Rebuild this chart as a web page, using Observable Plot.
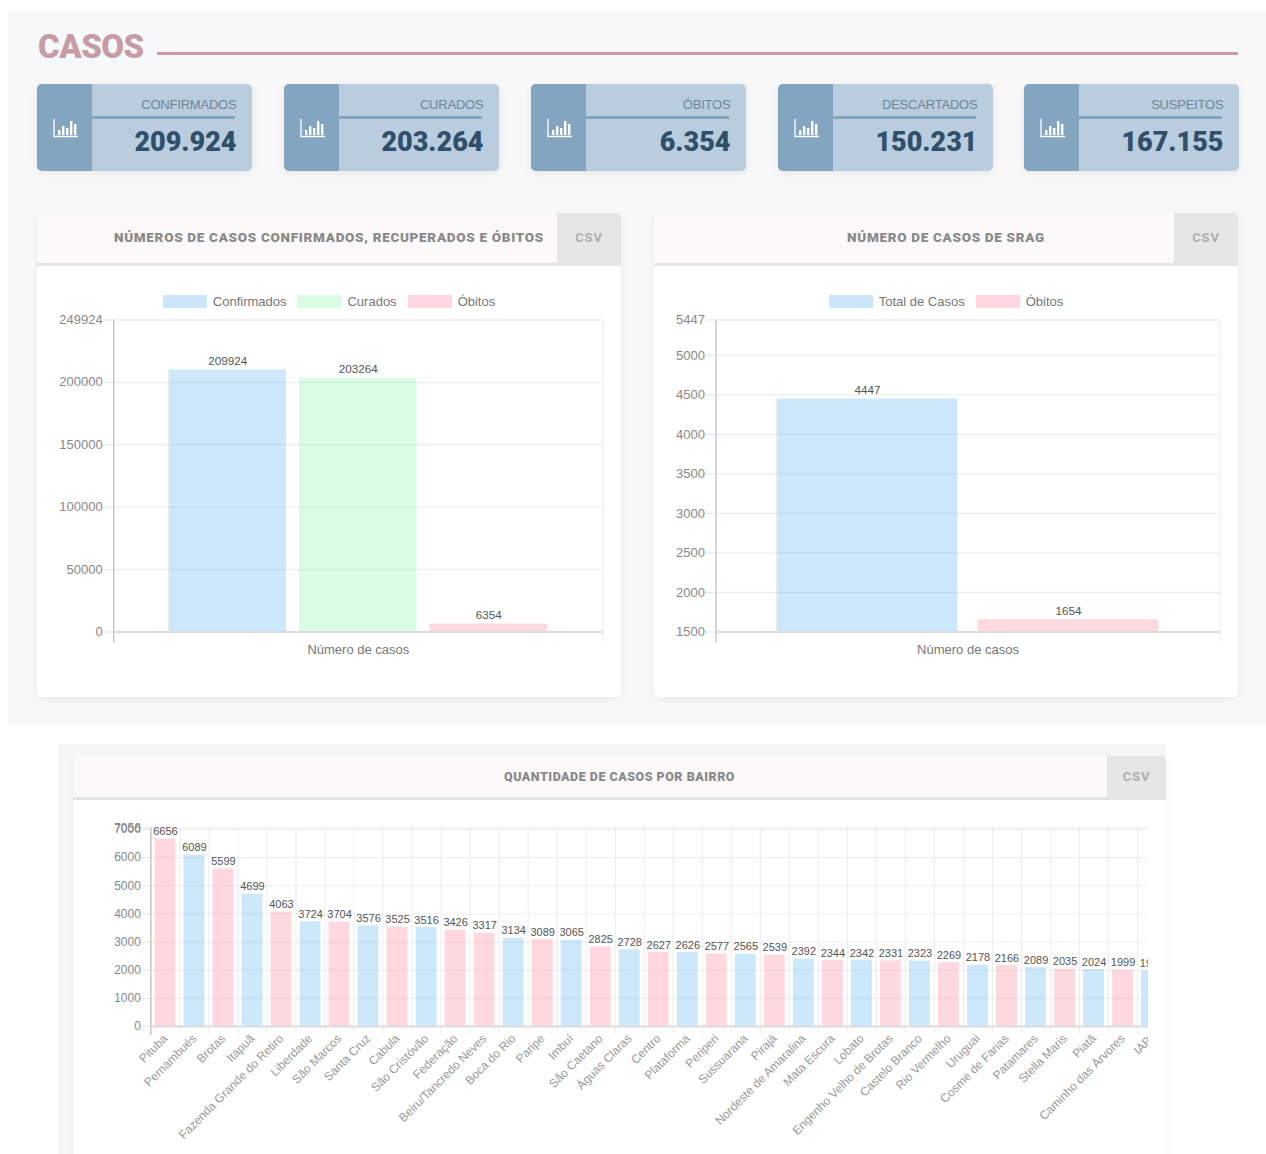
<!DOCTYPE html>
<html lang="pt-BR">
<head>
<meta charset="utf-8">
<script src="https://cdn.jsdelivr.net/npm/d3@7"></script>
<script src="https://cdn.jsdelivr.net/npm/@observablehq/plot@0.6"></script>
<style>
  html, body { margin: 0; padding: 0; background: #fff; }
  #page { position: relative; width: 1266px; height: 1154px; overflow: hidden; background: #fff; font-family: "Liberation Sans", Arial, sans-serif; }
  .abs { position: absolute; }
  #panel1 { left: 8px; top: 11px; width: 1258px; height: 714px; background: #f8f8f8; }
  #panel2 { left: 58px; top: 744px; width: 1108px; height: 410px; background: #f7f7f7; }
  #casos { left: 36px; top: 30px; width: 121px; height: 33px; background: #f6f9fb; color: #c99ba4; font: 900 33px/33px Roboto, sans-serif; letter-spacing: -0.5px; padding-left: 2px; box-sizing: border-box; }
  #casosRule { left: 157px; top: 51.5px; width: 1081px; height: 3px; background: #cb9ca5; }
  .stat { position: absolute; top: 84px; width: 214.5px; height: 87px; border-radius: 5px; background: #b9cddf; overflow: hidden; box-shadow: 0 2px 8px rgba(0,0,0,.08); }
  .stat .side { position: absolute; left: 0; top: 0; width: 55px; height: 100%; background: #83a5c0; }
  .stat .side svg { position: absolute; left: 16px; top: 34px; }
  .stat .lab { position: absolute; right: 15px; top: 13px; font-size: 13px; line-height: 16px; color: #6f8599; letter-spacing: -0.2px; }
  .stat .line { position: absolute; left: 55px; right: 17px; top: 32px; height: 3px; background: #82a5c1; }
  .stat .num { position: absolute; right: 15px; top: 41px; font: 900 27px/34px Roboto, sans-serif; color: #2f4f6a; }
  .card { position: absolute; background: #fff; border-radius: 5px; box-shadow: 0 2px 10px rgba(0,0,0,.06); overflow: hidden; }
  .card .head { position: absolute; left: 0; right: 0; top: 0; background: #fbf9fa; border-bottom: 3px solid #e3e3e3; text-align: center; color: #8a8a8a; font-family: Roboto, sans-serif; font-weight: 900; box-sizing: content-box; }
  .card .csv { position: absolute; right: 0; top: 0; background: #e6e6e6; color: #aeaeae; font: 700 13px Roboto, sans-serif; letter-spacing: 0.9px; text-align: center; }
  .legend { position: absolute; left: 0; right: 0; top: 82px; display: flex; justify-content: center; gap: 11px; font-size: 13px; line-height: 13px; color: #777; }
  .legend span.item { display: flex; align-items: center; gap: 6px; }
  .legend i { display: block; width: 44px; height: 13px; }
  .plotbox { position: absolute; overflow: hidden; }
  .plotbox svg { display: block; background: transparent; max-width: none; height: auto; }
</style>
</head>
<body>
<div id="page">
  <div class="abs" id="panel1"></div>
  <div class="abs" id="panel2"></div>
  <div class="abs" id="casos">CASOS</div>
  <div class="abs" id="casosRule"></div>
</div>
<script>
// Stat cards
const cardLabels = ["CONFIRMADOS", "CURADOS", "ÓBITOS", "DESCARTADOS", "SUSPEITOS"];
const cardValues = ["209.924", "203.264", "6.354", "150.231", "167.155"];
const cardLefts = [37, 284, 531, 778, 1024];

// Chart 1
const casosSeries = ["Confirmados", "Curados", "Óbitos"];
const casosValues = [209924, 203264, 6354];
const casosTicks = [0, 50000, 100000, 150000, 200000, 249924];

// Chart 2
const sragSeries = ["Total de Casos", "Óbitos"];
const sragValues = [4447, 1654];
const sragTicks = [1500, 2000, 2500, 3000, 3500, 4000, 4500, 5000, 5447];
const sragBase = 1500;

// Chart 3
const bairros = ["Pituba","Pernambués","Brotas","Itapuã","Fazenda Grande do Retiro","Liberdade","São Marcos","Santa Cruz","Cabula","São Cristóvão","Federação","Beiru/Tancredo Neves","Boca do Rio","Paripe","Imbuí","São Caetano","Águas Claras","Centro","Plataforma","Periperi","Sussuarana","Pirajá","Nordeste de Amaralina","Mata Escura","Lobato","Engenho Velho de Brotas","Castelo Branco","Rio Vermelho","Uruguai","Cosme de Farias","Patamares","Stella Maris","Piatã","Caminho das Árvores","IAPI"];
const bairroValues = [6656,6089,5599,4699,4063,3724,3704,3576,3525,3516,3426,3317,3134,3089,3065,2825,2728,2627,2626,2577,2565,2539,2392,2344,2342,2331,2323,2269,2178,2166,2089,2035,2024,1999,1987];
const bairroGroups = "RARARARARARRARARARARARARARARARARARA".split("");
const bairroTicks = [0,1000,2000,3000,4000,5000,6000,7000,7056];

// Palette
const blue = "rgb(54,162,235)", green = "rgb(107,243,147)", pink = "rgb(255,99,132)";
const barOpacity = 0.25;
const swatchColors = {"Confirmados":"#cde6f9","Total de Casos":"#cde6f9","Curados":"#dafce4","Óbitos":"#ffd7e0"};

const page = document.getElementById("page");

function el(tag, cls, parent, css, text) {
  const e = document.createElement(tag);
  if (cls) e.className = cls;
  if (css) e.style.cssText = css;
  if (text != null) e.textContent = text;
  parent.appendChild(e);
  return e;
}

// stat cards
const iconSvg = '<svg width="26" height="20" viewBox="0 0 26 20" fill="none"><path d="M1 1V18.5H25" stroke="#fff" stroke-width="1.3"/><g fill="#fff"><rect x="5" y="12" width="2.4" height="5"/><rect x="9" y="8" width="2.4" height="9"/><rect x="13" y="10" width="2.4" height="7"/><rect x="17" y="3" width="2.4" height="14"/><rect x="21" y="6" width="2.4" height="11"/></g></svg>';
cardLabels.forEach((lab, i) => {
  const c = el("div", "stat", page, `left:${cardLefts[i]}px`);
  const side = el("div", "side", c);
  side.innerHTML = iconSvg;
  el("div", "lab", c, "", lab);
  el("div", "line", c);
  el("div", "num", c, "", cardValues[i]);
});

function makeCard(left, top, width, height, headH, csvW, title, titleSize, titleSpacing, titleLine) {
  const c = el("div", "card", page, `left:${left}px;top:${top}px;width:${width}px;height:${height}px`);
  el("div", "head", c, `height:${headH}px;line-height:${titleLine}px;font-size:${titleSize}px;letter-spacing:${titleSpacing}px`, title);
  el("div", "csv", c, `width:${csvW}px;height:${headH + 3}px;line-height:${headH}px`, "CSV");
  return c;
}
function legend(card, names) {
  const l = el("div", "legend", card);
  names.forEach(n => {
    const s = el("span", "item", l);
    el("i", "", s, `background:${swatchColors[n]}`);
    el("span", "", s, "", n);
  });
}

const axisColor = "#e4e4e4", gridColor = "#000", textColor = "#888";

function summaryPlot({series, values, ticks, base, colors, marginLeft, range, width, height}) {
  const data = series.map((s, i) => ({s, v: values[i]}));
  return Plot.plot({
    width, height,
    marginLeft, marginRight: 18.5, marginTop: 54.5, marginBottom: 65.5,
    style: {fontFamily: '"Liberation Sans", Arial, sans-serif', background: "transparent", overflow: "hidden"},
    x: {type: "band", domain: series, range, padding: 0.1, round: false, label: null},
    y: {domain: [base, ticks[ticks.length - 1]], label: null},
    color: {domain: series, range: colors},
    marks: [
      Plot.gridY(ticks, {stroke: gridColor, strokeOpacity: 0.07, strokeWidth: 1.3}),
      Plot.frame({anchor: "right", stroke: "#ececec", insetBottom: -10}),
      Plot.barY(data, {x: "s", y1: () => base, y2: "v", fill: "s", fillOpacity: barOpacity}),
      Plot.frame({anchor: "left", stroke: "#bdbdbd", strokeWidth: 1.2, insetBottom: -10}),
      Plot.ruleY([base], {stroke: "#dcdcdc", strokeWidth: 2}),
      Plot.axisY({ticks, tickFormat: "d", tickSize: 10, tickPadding: 1, fontSize: 13, stroke: axisColor, fill: textColor, label: null}),
      Plot.axisX({tickSize: 0, tickFormat: () => "", label: "Número de casos", labelAnchor: "center", labelArrow: "none", labelOffset: 22, fontSize: 13, fill: "#777"}),
      Plot.text(data, {x: "s", y: "v", text: d => String(d.v), dy: -9, fontSize: 11.7, fill: "#555"})
    ]
  });
}

// Chart 1
const card1 = makeCard(37, 213, 584, 484, 50, 64, "NÚMEROS DE CASOS CONFIRMADOS, RECUPERADOS E ÓBITOS", 13.5, 0.7, 49);
legend(card1, casosSeries);
const box1 = el("div", "plotbox", card1, "left:0;top:52px;width:584px;height:432px");
box1.appendChild(summaryPlot({series: casosSeries, values: casosValues, ticks: casosTicks, base: 0, colors: [blue, green, pink], marginLeft: 76.2, range: [118.45, 523], width: 584, height: 432}));

// Chart 2
const card2 = makeCard(654, 213, 584, 484, 50, 64, "NÚMERO DE CASOS DE SRAG", 13.5, 0.7, 49);
legend(card2, sragSeries);
const box2 = el("div", "plotbox", card2, "left:0;top:52px;width:584px;height:432px");
box2.appendChild(summaryPlot({series: sragSeries, values: sragValues, ticks: sragTicks, base: sragBase, colors: [blue, pink], marginLeft: 61.5, range: [102.4, 524.5], width: 584, height: 432}));

// Chart 3
const card3 = makeCard(73, 756, 1093, 420, 41, 59, "QUANTIDADE DE CASOS POR BAIRRO", 12.5, 0.5, 42);
const box3 = el("div", "plotbox", card3, "left:0;top:44px;width:1075px;height:354px");
const bairroData = bairros.map((b, i) => ({b, v: bairroValues[i], g: bairroGroups[i]}));
const step = 29.02;
box3.appendChild(Plot.plot({
  width: 1075, height: 354,
  marginLeft: 77.4, marginRight: 0, marginTop: 27.4, marginBottom: 128,
  style: {fontFamily: '"Liberation Sans", Arial, sans-serif', background: "transparent", overflow: "hidden"},
  x: {type: "band", domain: bairros, range: [77.4, 77.4 + step * bairros.length], paddingInner: 0.28, paddingOuter: 0.14, round: false, label: null},
  y: {domain: [0, 7056], label: null},
  color: {domain: ["R", "A"], range: [pink, blue]},
  marks: [
    Plot.gridY(bairroTicks, {stroke: gridColor, strokeOpacity: 0.07}),
    Plot.gridX(bairros, {dx: -step / 2, stroke: gridColor, strokeOpacity: 0.07, insetBottom: -8}),
    Plot.barY(bairroData, {x: "b", y: "v", fill: "g", fillOpacity: barOpacity}),
    Plot.frame({anchor: "left", stroke: "#bdbdbd", strokeWidth: 1.2, insetBottom: -8}),
    Plot.ruleY([0], {stroke: "#dcdcdc", strokeWidth: 2}),
    Plot.axisY({ticks: bairroTicks, tickFormat: "d", tickSize: 8, tickPadding: 2, fontSize: 12, stroke: axisColor, fill: textColor, label: null}),
    Plot.axisX({tickSize: 0, tickPadding: 10, tickRotate: -45, fontSize: 12, fill: "#999", label: null}),
    Plot.text(bairroData, {x: "b", y: "v", text: d => String(d.v), dy: -7.5, fontSize: 11, fill: "#555"})
  ]
}));
</script>
</body>
</html>
